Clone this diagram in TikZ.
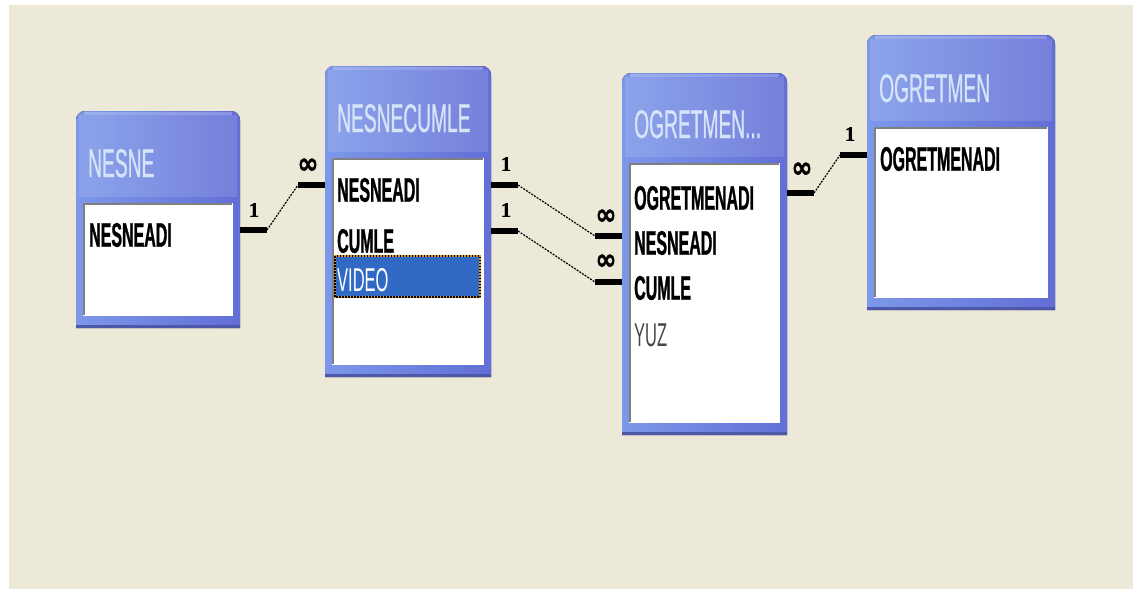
\documentclass[tikz,border=0pt]{standalone}
\usepackage{fontspec}
\setmainfont{Liberation Sans}
\newfontfamily\titlefont[FakeStretch=0.48,FakeBold=0.6]{Liberation Sans}
\newfontfamily\fieldbf[FakeStretch=0.47,FakeBold=0.8]{Liberation Sans Bold}
\newfontfamily\fieldrg[FakeStretch=0.5]{Liberation Sans}
\newfontfamily\onefont[FakeBold=0.6]{Liberation Serif Bold}
\newfontfamily\infont[FakeBold=1.2]{DejaVu Sans Bold}
\definecolor{bg}{RGB}{236,233,216}
\definecolor{tblL}{RGB}{124,152,233}
\definecolor{tblR}{RGB}{98,110,214}
\definecolor{ttxt}{RGB}{214,228,248}
\definecolor{selblue}{RGB}{49,106,197}
\definecolor{selorange}{RGB}{214,150,40}
\definecolor{yuzgray}{RGB}{70,70,70}
\tikzset{
  tblframe/.style={inner sep=0pt, outer sep=0pt, anchor=north west},
  tbltitle/.style={anchor=base west, inner sep=0pt, text=ttxt, font=\titlefont\fontsize{40}{40}\selectfont},
  keyfield/.style={anchor=west, inner sep=0pt, text=black, font=\fieldbf\fontsize{34}{34}\selectfont},
  plainfield/.style={anchor=west, inner sep=0pt, font=\fieldrg\fontsize{33}{33}\selectfont},
  bar/.style={line width=6pt, black},
  link/.style={line width=1.2pt, black, dash pattern=on 2pt off 1.2pt},
  onelbl/.style={inner sep=0pt, font=\onefont\fontsize{21}{21}\selectfont},
  manylbl/.style={inner sep=0pt, font=\infont\fontsize{24}{24}\selectfont}
}
\newcommand\manysym{\scalebox{1.05}[1.25]{∞}}
% #1 name, #2 x1, #3 y1, #4 x2, #5 y2, #6 inner top, #7 title baseline, #8 title
\newcommand\dbtable[8]{%
  \node[tblframe, minimum width={#4-#2}, minimum height={#5-#3}] (#1) at (#2,#3) {};
  \fill[left color=tblL, right color=tblR]
    ({#2},{#5}) -- ({#2},{#3+9}) arc[start angle=180,end angle=270,radius=9]
    -- ({#4-9},{#3}) arc[start angle=270,end angle=360,radius=9] -- ({#4},{#5}) -- cycle;
  \fill[white, opacity=0.12] ({#2+3},{#3+4}) rectangle ({#4-3},{#6-6});
  \fill[white, opacity=0.25] ({#2+8},{#3+1}) rectangle ({#4-8},{#3+4});
  \fill[black!20!tblR] ({#2},{#5-3}) rectangle ({#4},{#5});
  \fill[white] ({#2+7},{#6}) rectangle ({#4-7},{#5-12});
  \draw[gray, line width=1.5pt] ({#2+8},{#5-13}) |- ({#4-8},{#6+1});
  \node[tbltitle] (#1-title) at ({#2+12},{#7}) {#8};
}
\begin{document}
\begin{tikzpicture}[x=1pt,y=-1pt]
\useasboundingbox (0,0) rectangle (1141,589);
\fill[white] (0,0) rectangle (1141,589);
\fill[bg] (9,5) rectangle (1133,589);

% tables
\dbtable{nesne}{76}{111}{240}{328}{203}{177}{NESNE}
\node[keyfield] (nesne-f1) at (89,235) {NESNEADI};

\dbtable{nc}{325}{66}{491}{377}{158}{132}{NESNECUMLE}
\node[keyfield] (nc-f1) at (337,190) {NESNEADI};
\node[keyfield] (nc-f2) at (337,241) {CUMLE};
\fill[selblue] (334,255) rectangle (481,298);
\draw[selorange, line width=1.5pt] (335,256) rectangle (480,297);
\draw[black, line width=1.5pt, dash pattern=on 1.5pt off 1.5pt] (335,256) rectangle (480,297);
\node[plainfield, text=white] (nc-f3) at (337,280) {VIDEO};

\dbtable{og2}{622}{73}{787}{435}{163}{138}{OGRETMEN...}
\node[keyfield] (og2-f1) at (634,198) {OGRETMENADI};
\node[keyfield] (og2-f2) at (634,243) {NESNEADI};
\node[keyfield] (og2-f3) at (634,288) {CUMLE};
\node[plainfield, text=yuzgray] (og2-f4) at (634,335) {YUZ};

\dbtable{og}{867}{35}{1055}{310}{127}{102}{OGRETMEN}
\node[keyfield] (og-f1) at (880,159) {OGRETMENADI};

% connector end points on the table edges
\coordinate (r1s) at (nesne.east |- 0,230);
\coordinate (r1e) at (nc.west |- 0,185);
\coordinate (r2s) at (nc.east |- 0,185);
\coordinate (r2e) at (og2.west |- 0,236);
\coordinate (r3s) at (nc.east |- 0,231);
\coordinate (r3e) at (og2.west |- 0,282);
\coordinate (r4s) at (og2.east |- 0,193);
\coordinate (r4e) at (og.west |- 0,155);

\foreach \r in {r1,r2,r3,r4}{
  \draw[bar] (\r s) -- ++(27,0) coordinate (\r a);
  \draw[bar] (\r e) -- ++(-27,0) coordinate (\r b);
  \draw[link] (\r a) -- (\r b);
}

% cardinality labels
\node[onelbl] (r1one) at (254,210) {1};
\node[manylbl] (r1many) at (308,166) {\manysym};
\node[onelbl] (r2one) at (506,164) {1};
\node[manylbl] (r2many) at (606,217) {\manysym};
\node[onelbl] (r3one) at (506,210) {1};
\node[manylbl] (r3many) at (606,262) {\manysym};
\node[manylbl] (r4many) at (802,170) {\manysym};
\node[onelbl] (r4one) at (850,134) {1};
\end{tikzpicture}
\end{document}
